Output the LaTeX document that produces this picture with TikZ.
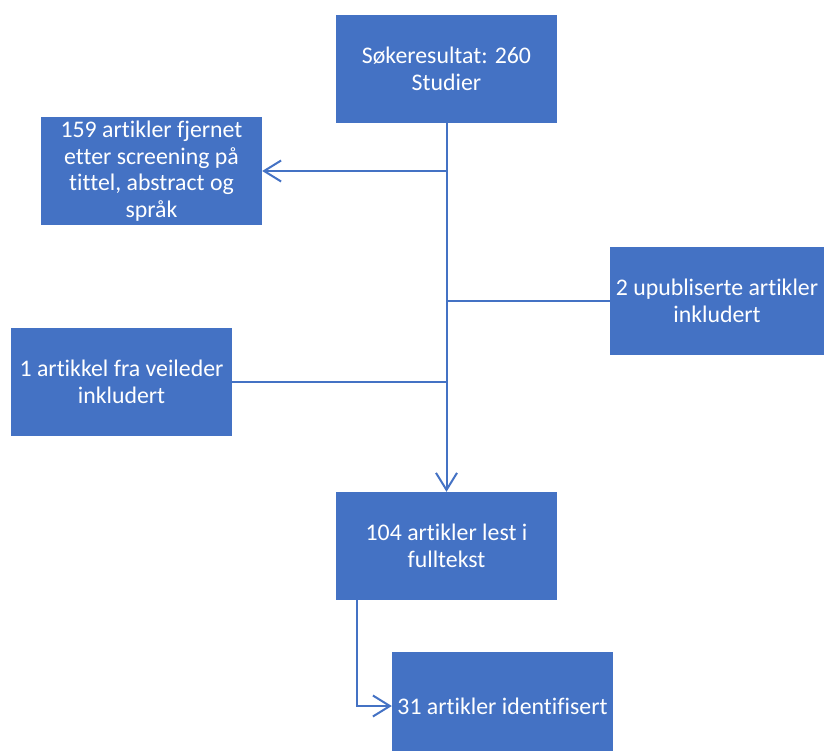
\documentclass[tikz,border=0pt]{standalone}
\usepackage{fontspec}
\setmainfont{Carlito}[Ligatures=NoCommon]
\usetikzlibrary{arrows.meta}
\definecolor{boxblue}{HTML}{4472C4}
\definecolor{lineblue}{HTML}{4472C4}
\begin{document}
\begin{tikzpicture}[x=1pt,y=-1pt,
  box/.style={fill=boxblue, draw=none, minimum width=221pt, minimum height=108pt, inner sep=0pt, text=white, align=center, font=\fontsize{23.8}{26.5}\selectfont},
  conn/.style={draw=lineblue, line width=2pt},
  arr/.style={conn, -{Straight Barb[length=17pt,width=21pt,line width=2pt]}}]
\useasboundingbox (0,0) rectangle (824,751);
\node[box] (top) at (446.5,69) {Søkeresultat: 260\\Studier};
\node[box] (rem) at (151.5,171) {159 artikler fjernet\\etter screening på\\tittel, abstract og\\språk};
\node[box, minimum width=214pt] (unp) at (717,301) {2 upubliserte artikler\\inkludert};
\node[box] (sup) at (121.5,382) {1 artikkel fra veileder\\inkludert};
\node[box] (full) at (446.5,546) {104 artikler lest i\\fulltekst};
\node[box] (ident) at (502.5,706) {31 artikler identifisert};
\draw[arr] (top) -- (full);
\draw[arr] (top |- rem) -- (rem.east);
\draw[conn] (top |- unp) -- (unp.west);
\draw[conn] (sup.east) -- (top |- sup);
\draw[arr] ([xshift=-90pt]full.south) |- (ident.west);
\end{tikzpicture}
\end{document}
